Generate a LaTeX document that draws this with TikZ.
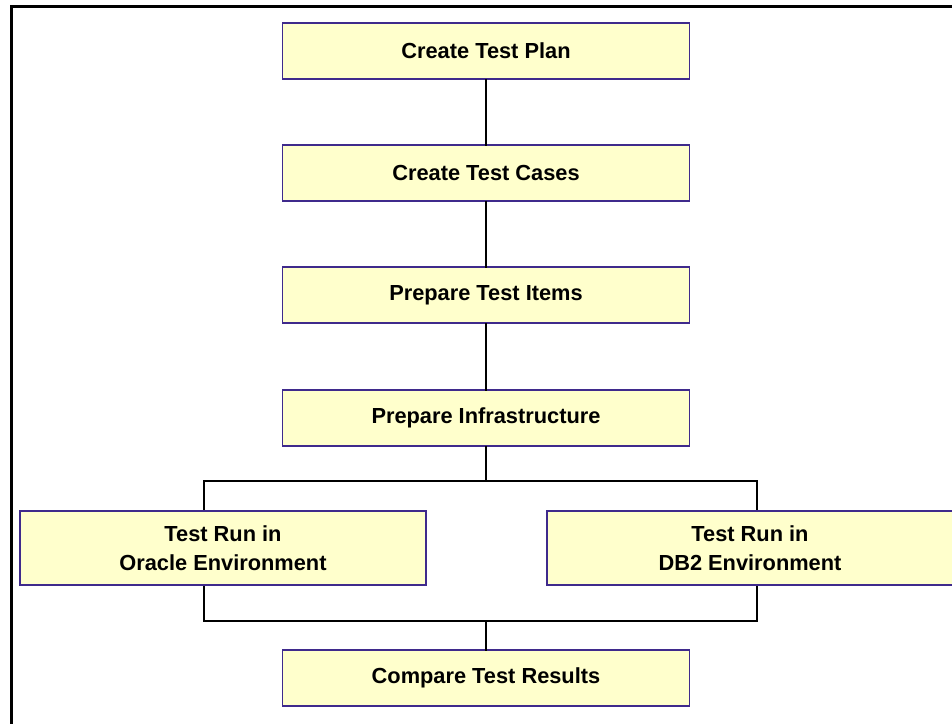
\documentclass[tikz,border=0pt]{standalone}
\usepackage{fontspec}
\setmainfont{Liberation Sans}
\definecolor{taskFill}{HTML}{FFFFCC}
\definecolor{taskEdge}{HTML}{3F2A8C}
\tikzset{
  taskbox/.style={draw=taskEdge, fill=taskFill, line width=1.2pt, inner sep=0pt,
    minimum width=407pt, minimum height=56pt, align=center,
    font=\fontsize{21.8}{29.5}\selectfont\bfseries},
  envbox/.style={taskbox, minimum width=406pt, minimum height=74pt},
  link/.style={draw=black, line width=2.2pt}
}
\begin{document}
\begin{tikzpicture}
% page frame, only left and top edges are visible
\useasboundingbox (0pt,0pt) rectangle (952pt,-723pt);
\begin{scope}[x=1pt, y=-1pt, line cap=rect]
  \draw[line width=3pt] (11,723) -- (11,6) -- (952,6);
  % fork and join points
  \coordinate (fork)  at (486,481);
  \coordinate (forkL) at (204,481);
  \coordinate (forkR) at (757,481);
  \coordinate (join)  at (486,621);
  \coordinate (joinL) at (204,621);
  \coordinate (joinR) at (757,621);
  % bracket round the parallel runs
  \draw[link] (fork) -- (forkL) -- (joinL) -- (joinR) -- (forkR) -- (fork);
  % main steps
  \node[taskbox] (plan)    at (486,51)  {Create Test Plan};
  \node[taskbox] (cases)   at (486,173) {Create Test Cases};
  \node[taskbox] (items)   at (486,295) {Prepare Test Items};
  \node[taskbox] (infra)   at (486,418) {Prepare Infrastructure};
  \node[taskbox] (compare) at (486,678) {Compare Test Results};
  % parallel runs drawn over the bracket
  \node[envbox] (oracle) at (223,548) {Test Run in\\Oracle Environment};
  \node[envbox] (db2)    at (750,548) {Test Run in\\DB2 Environment};
  % connectors
  \draw[link] (plan) -- (cases);
  \draw[link] (cases) -- (items);
  \draw[link] (items) -- (infra);
  \draw[link] (infra) -- (fork);
  \draw[link] (join) -- (compare);
\end{scope}
\end{tikzpicture}
\end{document}
